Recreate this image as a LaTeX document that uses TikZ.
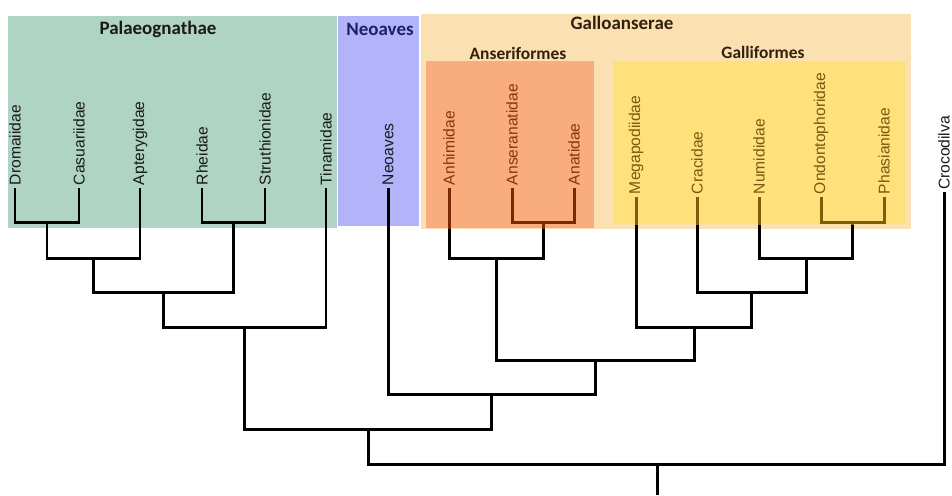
\documentclass[tikz,border=0pt]{standalone}
\usepackage{fontspec}
\setmainfont{Liberation Sans}
\newfontfamily\cladefont{Carlito}
\usepackage{tikz}
\definecolor{palaeofill}{RGB}{176,212,196}
\definecolor{neofill}{RGB}{179,179,250}
\definecolor{gallofill}{RGB}{251,224,178}
\definecolor{anserfill}{RGB}{249,173,126}
\definecolor{gallifill}{RGB}{255,224,122}
\definecolor{neotext}{RGB}{25,35,100}
\definecolor{gallotext}{RGB}{50,32,15}
\definecolor{ansertext}{RGB}{140,50,15}
\definecolor{gallitext}{RGB}{120,90,15}
\definecolor{anserline}{RGB}{125,40,5}
\definecolor{galliline}{RGB}{125,95,10}
\tikzstyle{branch}=[line width=1.7pt,black]
\tikzstyle{leaf}=[rotate=90,anchor=west,inner sep=1.5pt,text=black!90,font=\fontsize{8.9}{10}\selectfont]
\tikzstyle{clade}=[inner sep=0pt,font=\cladefont\bfseries\fontsize{10.8}{12}\selectfont]
\tikzstyle{subclade}=[inner sep=0pt,text=gallotext,font=\cladefont\bfseries\fontsize{9.9}{11}\selectfont]

\begin{document}
\begin{tikzpicture}[x=0.02cm,y=-0.02cm]
        \useasboundingbox (0,0) rectangle (952,495);
        \fill[palaeofill] (8,16) rectangle (337,228);
        \fill[neofill] (338,16) rectangle (419,226);
        \fill[gallofill] (421,14) rectangle (911,229);
        \fill[anserfill] (426,61) rectangle (594,228);
        \fill[gallifill] (613,61) rectangle (906,224);
        \node[clade,text=black!90] (palaeo) at (158,29) {Palaeognathae};
        \node[clade,text=neotext] (neognath) at (380,29) {Neoaves};
        \node[clade,text=gallotext] (gallo) at (622,23) {Galloanserae};
        \node[subclade] (anser) at (518,53) {Anseriformes};
        \node[subclade] (galli) at (763,52) {Galliformes};
        \foreach \n/\t/\x in {dro/Dromaiidae/15,cas/Casuariidae/79,apt/Apterygidae/140,rhe/Rheidae/202,str/Struthionidae/265,tin/Tinamidae/326,neo/Neoaves/388}
            \node[leaf] (\n) at (\x,188) {\t};
        \foreach \n/\t/\x in {anh/Anhimidae/449,ansn/Anseranatidae/512,anat/Anatidae/574}
            \node[leaf,text=ansertext] (\n) at (\x,188) {\t};
        \foreach \n/\t/\x in {meg/Megapodiidae/636,cra/Cracidae/697,num/Numididae/759,ond/Ondontophoridae/821,pha/Phasianidae/884}
            \node[leaf,text=gallitext] (\n) at (\x,197) {\t};
        \node[leaf,inner sep=1pt] (cro) at (944,192) {Crocodilva};
        \coordinate (j1) at (47,222);
        \coordinate (j2) at (233.5,222);
        \coordinate (j3) at (93.5,258);
        \coordinate (j4) at (163.5,292);
        \coordinate (j5) at (244.5,327);
        \coordinate (a1) at (543,222);
        \coordinate (a2) at (496,258);
        \coordinate (g1) at (852.5,222);
        \coordinate (g2) at (806,258);
        \coordinate (g3) at (751.5,292);
        \coordinate (g4) at (694,327);
        \coordinate (n1) at (595,360);
        \coordinate (n2) at (491.5,394);
        \coordinate (n3) at (368,429);
        \coordinate (root) at (657,464);
        \coordinate (base) at (657,495);
        \draw[branch] (dro.west) |- (j1) -| (cas.west);
        \draw[branch] (rhe.west) |- (j2) -| (str.west);
        \draw[branch] (j1) |- (j3) -| (apt.west);
        \draw[branch] (j3) |- (j4) -| (j2);
        \draw[branch] (j4) |- (j5) -| (tin.west);
        \draw[branch] (ansn.west) |- (a1) -| (anat.west);
        \draw[branch] (anh.west) |- (a2) -| (a1);
        \draw[branch] (ond.west) |- (g1) -| (pha.west);
        \draw[branch] (num.west) |- (g2) -| (g1);
        \draw[branch] (cra.west) |- (g3) -| (g2);
        \draw[branch] (meg.west) |- (g4) -| (g3);
        \draw[branch] (a2) |- (n1) -| (g4);
        \draw[branch] (neo.west) |- (n2) -| (n1);
        \draw[branch] (j5) |- (n3) -| (n2);
        \draw[branch] (n3) |- (root) -| (cro.west);
        \draw[branch] (root) -- (base);
        \begin{scope}
            \clip (426,61) rectangle (594,228);
            \draw[branch,anserline] (ansn.west) |- (a1) -| (anat.west);
            \draw[branch,anserline] (anh.west) |- (a2) -| (a1);
        \end{scope}
        \begin{scope}
            \clip (613,61) rectangle (906,224);
            \draw[branch,galliline] (ond.west) |- (g1) -| (pha.west);
            \draw[branch,galliline] (num.west) |- (g2) -| (g1);
            \draw[branch,galliline] (cra.west) |- (g3) -| (g2);
            \draw[branch,galliline] (meg.west) |- (g4) -| (g3);
        \end{scope}
\end{tikzpicture}
\end{document}
